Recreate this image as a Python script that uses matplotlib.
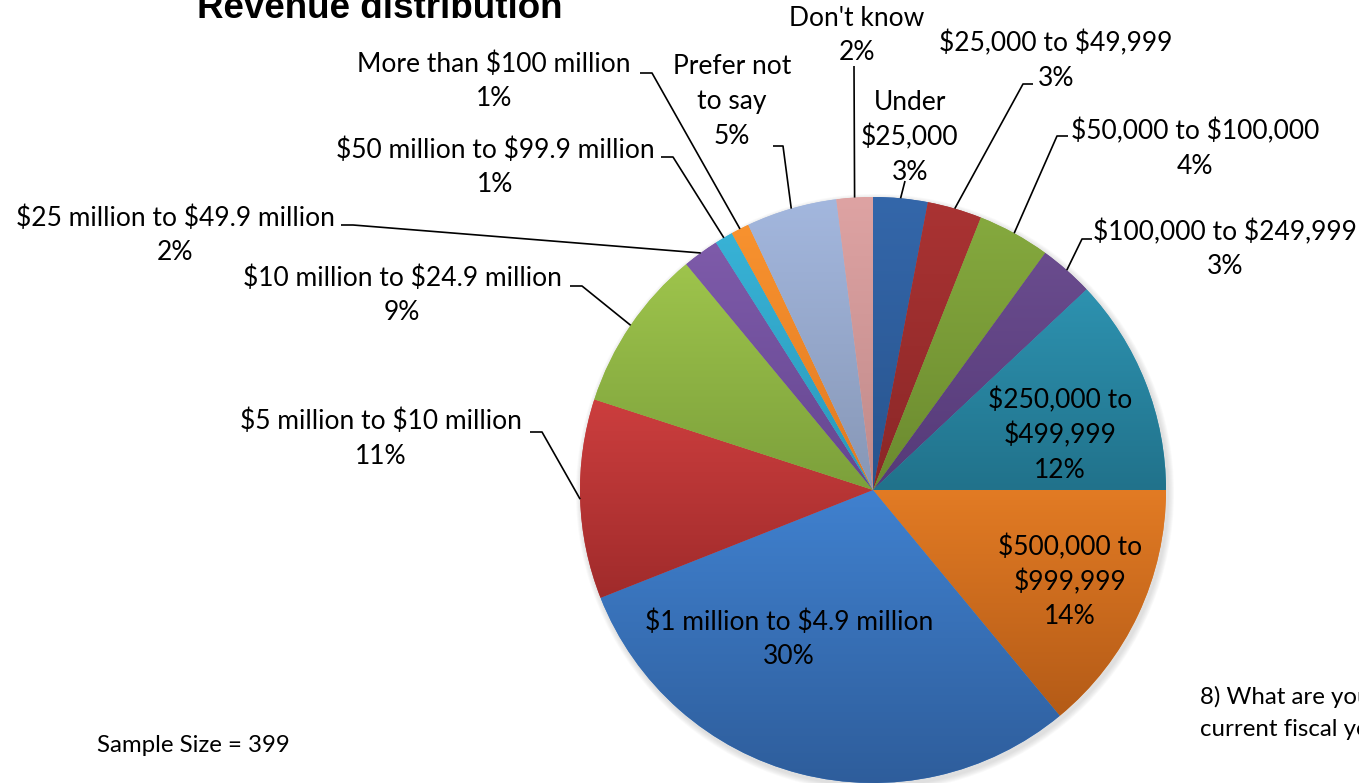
import matplotlib.pyplot as plt
import numpy as np
from matplotlib.colors import to_rgb
from matplotlib.patches import Circle

# dollar signs in the labels are literal text
plt.rcParams["text.parse_math"] = False

# revenue bands, clockwise from 12 o'clock
categories = [
    "Under $25,000", "$25,000 to $49,999", "$50,000 to $100,000",
    "$100,000 to $249,999", "$250,000 to $499,999", "$500,000 to $999,999",
    "$1 million to $4.9 million", "$5 million to $10 million",
    "$10 million to $24.9 million", "$25 million to $49.9 million",
    "$50 million to $99.9 million", "More than $100 million",
    "Prefer not to say", "Don't know",
]
shares = [3, 3, 4, 3, 12, 14, 30, 11, 9, 2, 1, 1, 5, 2]

# label text as wrapped on the chart (percent added from shares)
label_lines = [
    ["Under", "$25,000"], ["$25,000 to $49,999"], ["$50,000 to $100,000"],
    ["$100,000 to $249,999"], ["$250,000 to", "$499,999"], ["$500,000 to", "$999,999"],
    ["$1 million to $4.9 million"], ["$5 million to $10 million"],
    ["$10 million to $24.9 million"], ["$25 million to $49.9 million"],
    ["$50 million to $99.9 million"], ["More than $100 million"],
    ["Prefer not", "to say"], ["Don't know"],
]

top_colors = [
    "#3467AA", "#AA3333", "#85A93E", "#6A4C8E", "#2D92B0", "#E27B24", "#4081CF",
    "#CC3E3E", "#9EC44C", "#7E5BAA", "#38B2D6", "#F8922F", "#A3B7DE", "#DEA3A3",
]
bottom_colors = [
    "#28548E", "#8A2727", "#6B8A2F", "#553A78", "#21728B", "#B45B17", "#2E5D9B",
    "#A02B2B", "#7CA03B", "#654690", "#2A99BA", "#E17A21", "#8797B6", "#C08A8A",
]

W, H = 1359, 783
CX, CY, R = 873, 490, 293

# label block: centre x, first line y (pixels from top)
label_pos = [
    (910, 102), (1056, 43), (1195, 131), (1225, 232), (1060, 400), (1070, 547),
    (789, 622), (381, 421), (402, 278), (175, 218), (495, 150), (494, 64),
    (732, 66), (857, 18),
]
# leader line start and elbow (None for labels inside the pie)
leaders = [
    ((905, 181), None), ((1033, 84), (1023, 84)), ((1068, 136), (1057, 136)),
    ((1092, 239), (1082, 239)), None, None, None,
    ((530, 432), (542, 432)), ((570, 286), (582, 286)), ((341, 225), (353, 225)),
    ((661, 157), (673, 157)), ((640, 73), (652, 73)), ((773, 146), (783, 146)),
    ((854, 66), None),
]

LINE_PITCH = 35
LABEL_FONT = ["Lato", "DejaVu Sans"]
LABEL_SIZE = 19
NOTE_SIZE = 17.3

fig = plt.figure(figsize=(W / 100, H / 100), dpi=100)
ax = fig.add_axes([0, 0, 1, 1])

# soft drop shadow under the pie
for k in range(6, 0, -1):
    ax.add_patch(Circle((CX + 2, CY + 3), R + k, color="#808080", alpha=0.045, lw=0, zorder=0))

wedges, _ = ax.pie(shares, center=(CX, CY), radius=R, startangle=-90, counterclock=True,
                   frame=True, wedgeprops=dict(linewidth=0))

# vertical gradient inside every wedge, light at its top edge, darker at the bottom
for w, c_top, c_bot in zip(wedges, top_colors, bottom_colors):
    verts = w.get_path().vertices
    x0, x1 = verts[:, 0].min(), verts[:, 0].max()
    y0, y1 = verts[:, 1].min(), verts[:, 1].max()
    t = np.linspace(0, 1, 256)[:, None]
    grad = (1 - t) * np.array(to_rgb(c_top)) + t * np.array(to_rgb(c_bot))
    w.set_facecolor(c_top)
    im = ax.imshow(grad[:, None, :], extent=(x0, x1, y1, y0), origin="upper",
                   aspect="auto", interpolation="bilinear", zorder=2)
    im.set_clip_path(w)

for w, lines, share, pos, lead in zip(wedges, label_lines, shares, label_pos, leaders):
    block = lines + [f"{share}%"]
    cx, y0 = pos
    for i, line in enumerate(block):
        ax.text(cx, y0 + i * LINE_PITCH, line, ha="center", va="center",
                fontsize=LABEL_SIZE, family=LABEL_FONT, color="black", zorder=5)
    if lead is None:
        continue
    mid = np.deg2rad((w.theta1 + w.theta2) / 2)
    edge = (CX + R * np.cos(mid), CY + R * np.sin(mid))
    pts = [lead[0]] + ([lead[1]] if lead[1] is not None else []) + [edge]
    xs, ys = zip(*pts)
    ax.plot(xs, ys, color="black", lw=1.2, zorder=4, solid_capstyle="butt")

ax.text(380, 8, "Revenue distribution", ha="center", va="center", fontsize=26.5,
        fontweight="bold", family="Liberation Sans", color="black")
ax.text(97, 745, "Sample Size = 399", ha="left", va="center", fontsize=NOTE_SIZE,
        family=LABEL_FONT, color="black")
ax.text(1200, 697, "8) What are your", ha="left", va="center", fontsize=NOTE_SIZE,
        family=LABEL_FONT, color="black")
ax.text(1200, 730, "current fiscal year?", ha="left", va="center", fontsize=NOTE_SIZE,
        family=LABEL_FONT, color="black")

ax.set_xlim(0, W)
ax.set_ylim(H, 0)
ax.set_aspect("auto")
ax.axis("off")

fig.savefig("out.png", dpi=100)
